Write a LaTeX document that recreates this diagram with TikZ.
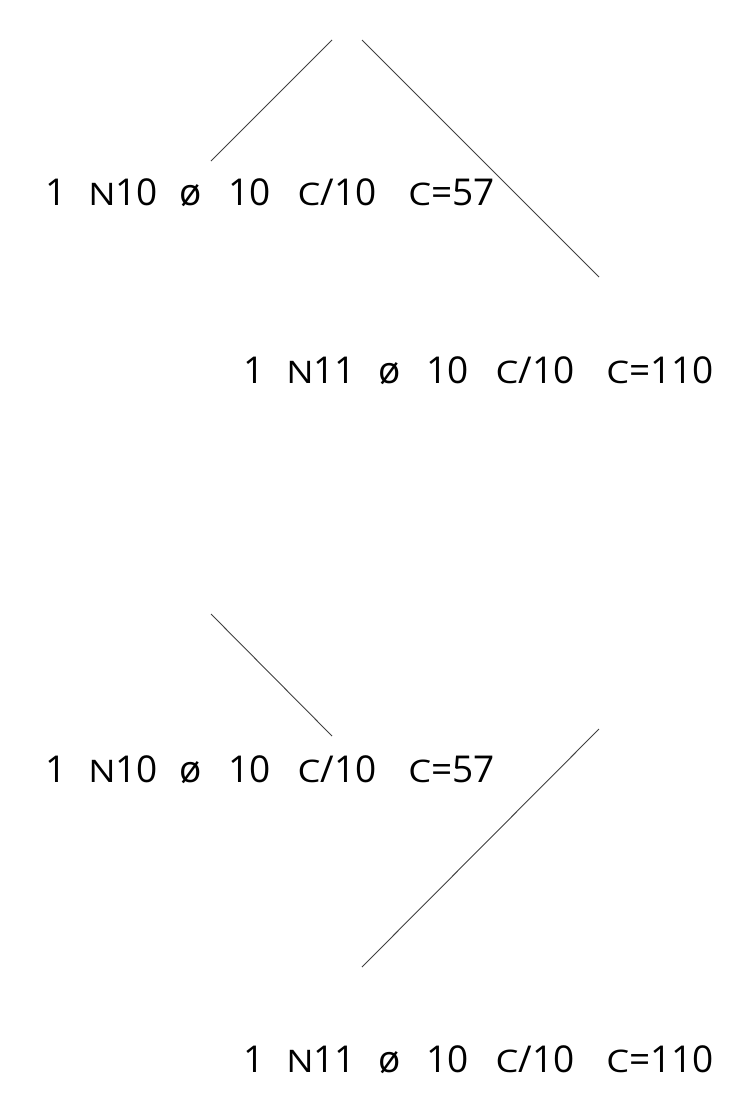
\documentclass[tikz,border=0pt]{standalone}
\usepackage{fontspec}
\setmainfont{Open Sans}
\usepackage{graphicx}
\newcommand{\smc}[1]{\scalebox{0.98}[0.84]{#1}}
\tikzset{
  lbl/.style={anchor=base west, inner sep=0pt, font=\fontsize{37}{42}\selectfont, text=black},
  conn/.style={draw=black!75, line width=0.9pt}
}
\begin{document}
\begin{tikzpicture}[x=1pt,y=-1pt]
\useasboundingbox (0,0) rectangle (734,1103);
% text lines
\node[lbl] (t1) at (45,205) {1\hspace{22pt}\smc{N}10\hspace{22pt}ø\hspace{26pt}10\hspace{27pt}\smc{C}/10\hspace{32pt}\smc{C}=57};
\node[lbl] (t2) at (243,383) {1\hspace{22pt}\smc{N}11\hspace{22pt}ø\hspace{26pt}10\hspace{27pt}\smc{C}/10\hspace{32pt}\smc{C}=110};
\node[lbl] (t3) at (45,782) {1\hspace{22pt}\smc{N}10\hspace{22pt}ø\hspace{26pt}10\hspace{27pt}\smc{C}/10\hspace{32pt}\smc{C}=57};
\node[lbl] (t4) at (243,1072) {1\hspace{22pt}\smc{N}11\hspace{22pt}ø\hspace{26pt}10\hspace{27pt}\smc{C}/10\hspace{32pt}\smc{C}=110};
% line end points
\coordinate (a1) at (332,40);
\coordinate (a2) at (211,161);
\coordinate (b1) at (362,40);
\coordinate (b2) at (599,277);
\coordinate (c1) at (211,614);
\coordinate (c2) at (332,736);
\coordinate (d1) at (599,729);
\coordinate (d2) at (362,967);
\draw[conn] (a1) -- (a2);
\draw[conn] (b1) -- (b2);
\draw[conn] (c1) -- (c2);
\draw[conn] (d1) -- (d2);
\end{tikzpicture}
\end{document}
